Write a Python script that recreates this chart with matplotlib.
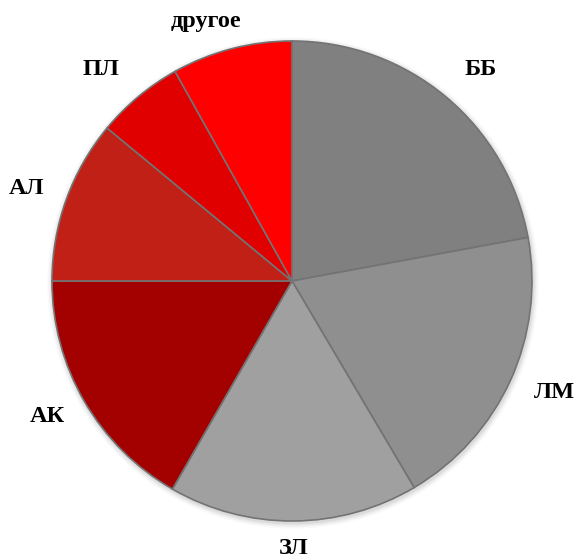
import matplotlib
matplotlib.use("Agg")
import matplotlib.pyplot as plt

categories = ["ББ", "ЛМ", "ЗЛ", "АК", "АЛ", "ПЛ", "другое"]
values = [22.1, 19.4, 16.8, 16.7, 11.0, 5.9, 8.1]
colors = ["#808080", "#8f8f8f", "#a0a0a0", "#a30000", "#c02015", "#e00000", "#ff0000"]

W, H = 578, 559
fig = plt.figure(figsize=(W / 100, H / 100), dpi=100)
cx, cy, r = 292, 281, 240
ax = fig.add_axes([(cx - r) / W, (H - cy - r) / H, 2 * r / W, 2 * r / H])

# soft shadow
for i, a in enumerate([0.05, 0.04, 0.03, 0.02]):
    circ = plt.Circle((0.004, -0.008), 1.0 + 0.006 * (i + 1), color="black", alpha=a,
                      lw=0, zorder=0, clip_on=False)
    ax.add_patch(circ)

ax.pie(values, colors=colors, startangle=90, counterclock=False, radius=1.0,
       wedgeprops=dict(edgecolor="#737373", linewidth=1.2))
ax.set_xlim(-1, 1)
ax.set_ylim(-1, 1)
ax.set_aspect("equal")
ax.axis("off")

label_pos = [(481, 70), (554, 393), (294, 548), (47, 416), (27, 189), (101, 70), (206, 21)]
for name, (px, py) in zip(categories, label_pos):
    fig.text(px / W, 1 - py / H, name, ha="center", va="center",
             fontsize=17.5, fontweight="bold", family="Liberation Serif", color="black")

fig.savefig("out.png", dpi=100)
